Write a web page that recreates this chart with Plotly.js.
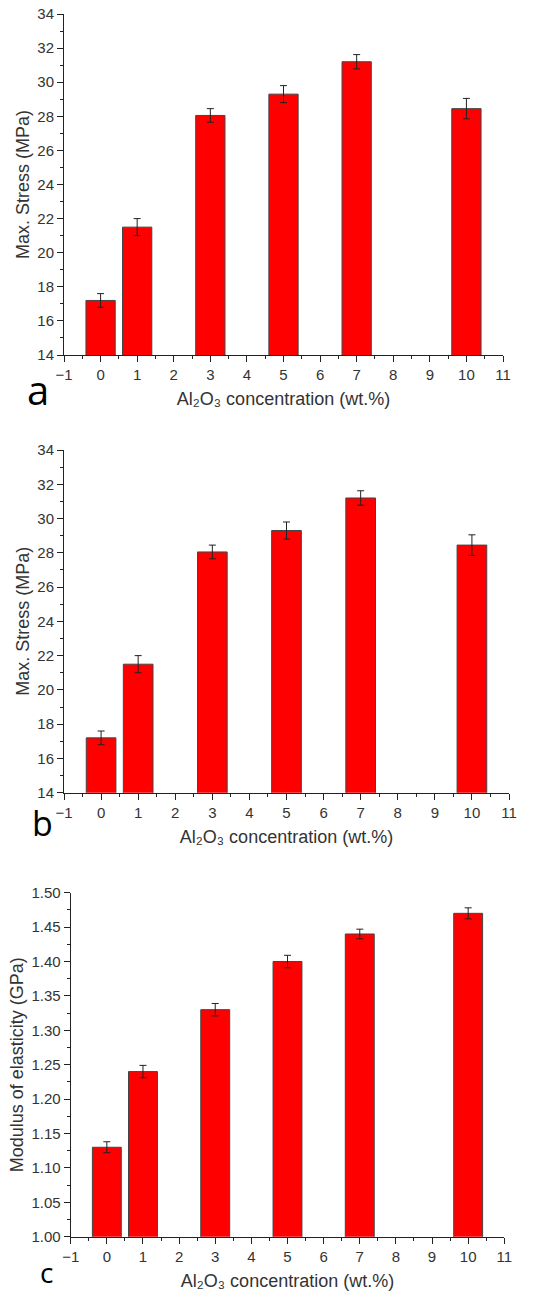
<!DOCTYPE html>
<html>
<head>
<meta charset="utf-8">
<script src="https://cdn.plot.ly/plotly-3.0.1.min.js"></script>
<style>
html,body{margin:0;padding:0;background:#fff;}
#chart{width:548px;height:1291px;}
</style>
</head>
<body>
<div id="chart"></div>
<script>
// ---- data ----
const concentration = [0, 1, 3, 5, 7, 10];
const maxStress = [17.2, 21.5, 28.05, 29.3, 31.2, 28.45];
const maxStressErr = [0.4, 0.5, 0.4, 0.5, 0.42, 0.6];
const modulus = [1.13, 1.24, 1.33, 1.40, 1.44, 1.47];
const modulusErr = [0.008, 0.009, 0.009, 0.009, 0.007, 0.008];
const xTickVals = [-1, 0, 1, 2, 3, 4, 5, 6, 7, 8, 9, 10, 11];
const panelLetters = ['a', 'b', 'c'];
const xTitleText = 'Al\u2082O\u2083 concentration (wt.%)';
const stressTitle = 'Max. Stress (MPa)';
const modulusTitle = 'Modulus of elasticity (GPa)';

const W = 548, H = 1291;
const FONT = 'Liberation Sans, Arial, sans-serif';
const TXT = '#333333';
const AXC = '#222222';

function barTrace(y, err, xa, ya) {
  return {
    type: 'bar', x: concentration, y: y, width: 0.8,
    xaxis: xa, yaxis: ya,
    marker: {color: '#ff0000', line: {color: '#444444', width: 1}},
    error_y: {type: 'data', array: err, visible: true, color: '#222222', thickness: 1, width: 3.5},
    hoverinfo: 'x+y'
  };
}

const data = [
  barTrace(maxStress, maxStressErr, 'x', 'y'),
  barTrace(maxStress, maxStressErr, 'x2', 'y2'),
  barTrace(modulus, modulusErr, 'x3', 'y3')
];

function px2fx(px){ return px / W; }
function py2fy(py){ return 1 - py / H; }

function xAxis(left, right, anchor) {
  return {
    domain: [px2fx(left), px2fx(right)], anchor: anchor,
    range: [-1, 11], tickmode: 'array', tickvals: xTickVals,
    showline: true, linecolor: AXC, linewidth: 1,
    ticks: 'outside', ticklen: 6, tickcolor: AXC, tickwidth: 1,
    minor: {dtick: 0.5, tick0: -1, ticks: 'outside', ticklen: 3, tickcolor: AXC, tickwidth: 1, showgrid: false},
    showgrid: false, zeroline: false, mirror: false, automargin: false,
    tickfont: {family: FONT, size: 15, color: TXT},
    title: {text: xTitleText, font: {family: FONT, size: 18, color: TXT}, standoff: 10},
    fixedrange: true
  };
}
function yAxis(top, bottom, anchor, range, dtick, minorDtick, fmt, title) {
  return {
    domain: [py2fy(bottom), py2fy(top)], anchor: anchor,
    range: range, dtick: dtick, tick0: range[0], tickformat: fmt,
    showline: true, linecolor: AXC, linewidth: 1,
    ticks: 'outside', ticklen: 6, tickcolor: AXC, tickwidth: 1,
    minor: {dtick: minorDtick, ticks: 'outside', ticklen: 3, tickcolor: AXC, tickwidth: 1, showgrid: false},
    showgrid: false, zeroline: false, automargin: false,
    tickfont: {family: FONT, size: 15, color: TXT},
    title: {text: title, font: {family: FONT, size: 18, color: TXT}, standoff: 3},
    fixedrange: true
  };
}

const layout = {
  width: W, height: H,
  margin: {l: 0, r: 0, t: 0, b: 0},
  paper_bgcolor: '#ffffff', plot_bgcolor: '#ffffff',
  showlegend: false, bargap: 0,
  xaxis: xAxis(64, 503, 'y'),
  yaxis: yAxis(14, 355, 'x', [14, 34], 2, 1, 'd', stressTitle),
  xaxis2: xAxis(64, 509, 'y2'),
  yaxis2: yAxis(450, 792.7, 'x2', [14, 34], 2, 1, 'd', stressTitle),
  xaxis3: xAxis(70.7, 504.3, 'y3'),
  yaxis3: yAxis(892.7, 1236.7, 'x3', [1.0, 1.5], 0.05, 0.025, '.2f', modulusTitle),
  annotations: [
    {text: panelLetters[0], xref: 'paper', yref: 'paper', x: px2fx(38), y: py2fy(389), showarrow: false,
     xanchor: 'center', yanchor: 'middle', font: {family: 'Open Sans, sans-serif', size: 40, color: '#000'}},
    {text: panelLetters[1], xref: 'paper', yref: 'paper', x: px2fx(42), y: py2fy(823), showarrow: false,
     xanchor: 'center', yanchor: 'middle', font: {family: 'Open Sans, sans-serif', size: 34, color: '#000'}},
    {text: panelLetters[2], xref: 'paper', yref: 'paper', x: px2fx(46), y: py2fy(1272), showarrow: false,
     xanchor: 'center', yanchor: 'middle', font: {family: 'Open Sans, sans-serif', size: 28, color: '#000'}}
  ]
};

Plotly.newPlot('chart', data, layout, {staticPlot: true, displayModeBar: false});
</script>
</body>
</html>
